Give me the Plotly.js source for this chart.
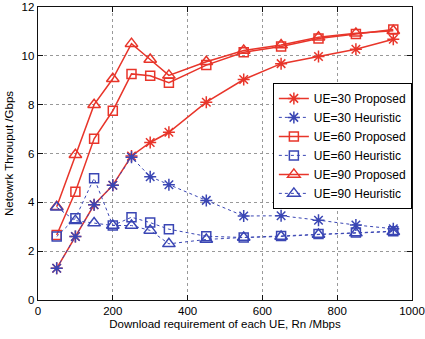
<!DOCTYPE html>
<html><head><meta charset="utf-8">
<script src="https://cdn.plot.ly/plotly-3.0.1.min.js"></script>
<style>html,body{margin:0;padding:0;background:#fff}#chart{width:425px;height:339px}</style>
</head><body><div id="chart"></div>
<script>
var rates = [50,100,150,200,250,300,350,450,550,650,750,850,950];
var ue30Proposed  = [1.3,2.6,3.9,4.7,5.9,6.45,6.87,8.1,9.03,9.68,9.97,10.27,10.68];
var ue30Heuristic = [1.3,2.6,3.9,4.7,5.85,5.05,4.72,4.08,3.44,3.45,3.27,3.07,2.92];
var ue60Proposed  = [2.66,4.43,6.6,7.75,9.26,9.18,8.9,9.62,10.15,10.38,10.71,10.89,11.08];
var ue60Heuristic = [2.6,3.35,4.99,3.05,3.39,3.17,2.9,2.61,2.56,2.62,2.7,2.76,2.82];
var ue90Proposed  = [3.82,5.95,8.0,9.06,10.5,9.85,9.2,9.76,10.22,10.44,10.76,10.92,11.03];
var ue90Heuristic = [3.8,3.25,3.15,3.05,3.05,2.85,2.3,2.48,2.56,2.6,2.68,2.74,2.8];
var names = ['UE=30 Proposed','UE=30 Heuristic','UE=60 Proposed','UE=60 Heuristic','UE=90 Proposed','UE=90 Heuristic'];

var red = '#e8352a', blue = '#3a46b4';
function tr(y, name, color, dash, sym, size, lw){
  return {x: rates, y: y, name: name, type: 'scatter', mode: 'lines+markers',
    line: {color: color, width: lw, dash: dash},
    marker: {symbol: sym, size: size, color: color, line: {color: color, width: 1.5}}};
}
var data = [
  tr(ue30Proposed, names[0], red, 'solid', 'asterisk-open', 10, 1.5),
  tr(ue30Heuristic, names[1], blue, 'dot', 'asterisk-open', 10, 1),
  tr(ue60Proposed, names[2], red, 'solid', 'square-open', 9, 1.5),
  tr(ue60Heuristic, names[3], blue, 'dot', 'square-open', 9, 1),
  tr(ue90Proposed, names[4], red, 'solid', 'triangle-up-open', 11, 1.5),
  tr(ue90Heuristic, names[5], blue, 'dot', 'triangle-up-open', 11, 1)
];
var axCommon = {showline: true, mirror: 'ticks', linecolor: '#111', linewidth: 1.4,
  ticks: 'inside', ticklen: 5, tickcolor: '#111', showgrid: true, gridcolor: '#999',
  griddash: 'dot', gridwidth: 1, zeroline: false, ticklabeloverflow: 'allow',
  tickfont: {family: 'Liberation Sans, Arial, sans-serif', size: 11.5, color: '#000'}};
var layout = {
  width: 425, height: 339,
  margin: {l: 38, r: 13, t: 7, b: 39},
  paper_bgcolor: '#fff', plot_bgcolor: '#fff',
  font: {family: 'Liberation Sans, Arial, sans-serif', size: 11, color: '#000'},
  xaxis: Object.assign({}, axCommon, {range: [0, 1000], tickvals: [0,200,400,600,800,1000],
    title: {text: 'Download requirement of each UE, Rn /Mbps', standoff: 3, font: {size: 11.5}}}),
  yaxis: Object.assign({}, axCommon, {range: [0, 12], tickvals: [0,2,4,6,8,10,12],
    title: {text: 'Netowrk Throuput /Gbps', standoff: 5, font: {size: 11.5}}}),
  showlegend: true,
  legend: {x: 0.628, y: 0.741, xanchor: 'left', yanchor: 'top', bgcolor: '#fff',
    bordercolor: '#000', borderwidth: 1, font: {size: 12}, tracegroupgap: 0, itemwidth: 30}
};
Plotly.newPlot('chart', data, layout, {staticPlot: true, displayModeBar: false});
</script></body></html>
